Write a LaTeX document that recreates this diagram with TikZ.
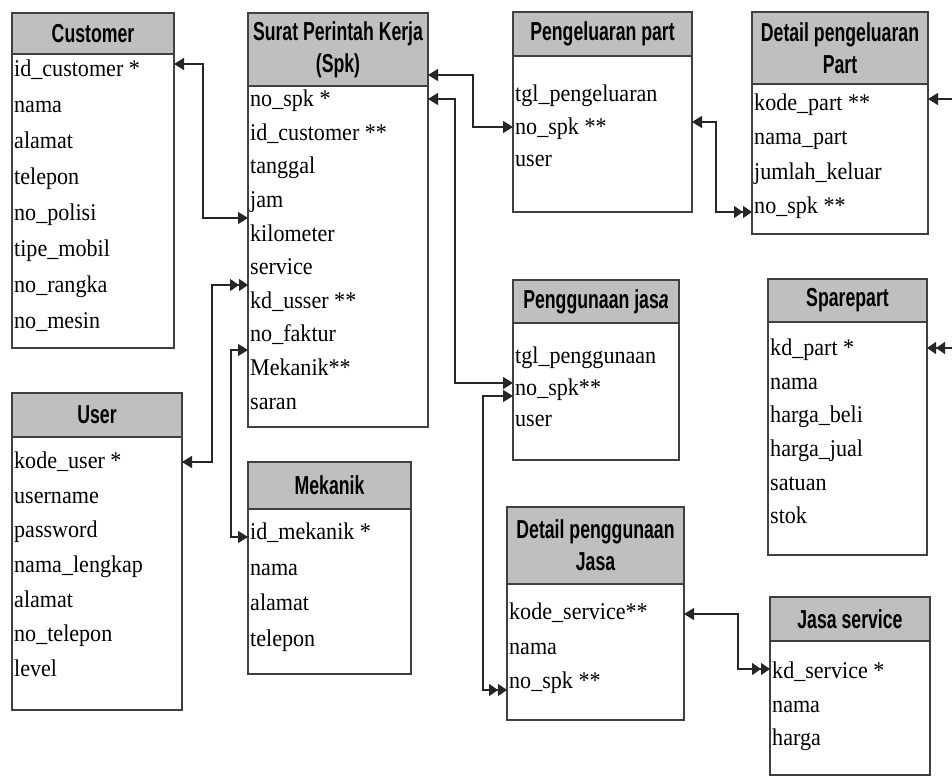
\documentclass[tikz,border=0pt]{standalone}
\usepackage{fontspec}
\usetikzlibrary{arrows.meta}
\newfontfamily\headfont[FakeStretch=0.68]{Liberation Sans}
\newfontfamily\fieldfont[FakeStretch=0.92]{Liberation Serif}

% one table: name, left, right, top, header bottom, body bottom, title
\newcommand{\erTable}[7]{%
  \node[bodybox, anchor=north west,
        minimum width={(#3-#2)*1pt}, minimum height={(#6-#5)*1pt}]
        (#1) at (#2,#5) {};
  \node[headbox, anchor=south west,
        minimum width={(#3-#2)*1pt}, minimum height={(#5-#4)*1pt}]
        (#1-h) at (#2,#5) {#7};
}

\tikzset{
  x=1pt, y=-1pt,
  bodybox/.style={draw=black!75, line width=1.4pt, fill=white, inner sep=0pt, outer sep=0pt},
  headbox/.style={draw=black!75, line width=1.4pt, fill=black!25, inner sep=0pt, outer sep=0pt,
    align=center, font=\headfont\bfseries\fontsize{26}{32}\selectfont},
  field/.style={anchor=mid west, inner xsep=2pt, inner ysep=0pt,
    font=\fieldfont\fontsize{24}{26}\selectfont},
  conn/.style={draw=black!85, line width=1.2pt},
  one/.tip={Triangle[length=10pt,width=12pt]},
  many/.tip={Triangle[length=9pt,width=12pt] Triangle[length=9pt,width=12pt]},
}

\begin{document}
\begin{tikzpicture}
\useasboundingbox (0,0) rectangle (952,778);

% ---- tables ----
\erTable{cust}{12}{174}{13}{54}{348}{Customer}
\erTable{spk}{248}{428}{13}{86}{427}{Surat Perintah Kerja\\(Spk)}
\erTable{keluar}{513}{692}{12}{56}{212}{Pengeluaran part}
\erTable{dkeluar}{752}{928}{12}{84}{234}{Detail pengeluaran\\Part}
\erTable{guna}{513}{679}{280}{323}{460}{Penggunaan jas\textit{a}}
\erTable{part}{768}{927}{279}{322}{555}{Sparepart}
\erTable{user}{12}{182}{393}{437}{710}{User}
\erTable{mek}{248}{411}{462}{509}{674}{Mekanik}
\erTable{dguna}{507}{684}{507}{584}{720}{Detail penggunaan\\Jasa}
\erTable{jasa}{770}{930}{597}{641}{775}{Jasa service}

% ---- fields ----
\foreach \t [count=\i] in {id\_customer *, nama, alamat, telepon, no\_polisi, tipe\_mobil, no\_rangka, no\_mesin}
  \node[field] (cust-\i) at (12, 38+36*\i) {\t};

\foreach \t [count=\i] in {no\_spk *, id\_customer **, tanggal, jam, kilometer, service, kd\_usser **, no\_faktur, Mekanik**, saran}
  \node[field] (spk-\i) at (248, 71+33.6*\i) {\t};

\foreach \t [count=\i] in {tgl\_pengeluaran, no\_spk **, user}
  \node[field] (keluar-\i) at (513, 67+32.5*\i) {\t};

\foreach \t [count=\i] in {kode\_part **, nama\_part, jumlah\_keluar, no\_spk **}
  \node[field] (dkeluar-\i) at (752, 74+34.3*\i) {\t};

\foreach \t [count=\i] in {tgl\_penggunaan, no\_spk**, user}
  \node[field] (guna-\i) at (513, 330+31.5*\i) {\t};

\foreach \t [count=\i] in {kd\_part *, nama, harga\_beli, harga\_jual, satuan, stok}
  \node[field] (part-\i) at (768, 320+33.6*\i) {\t};

\foreach \t [count=\i] in {kode\_user *, username, password, nama\_lengkap, alamat, no\_telepon, level}
  \node[field] (user-\i) at (12, 432+34.6*\i) {\t};

\foreach \t [count=\i] in {id\_mekanik *, nama, alamat, telepon}
  \node[field] (mek-\i) at (248, 502+35.5*\i) {\t};

\foreach \t [count=\i] in {kode\_service**, nama, no\_spk **}
  \node[field] (dguna-\i) at (507, 583+34.5*\i) {\t};

\foreach \t [count=\i] in {kd\_service *, nama, harga}
  \node[field] (jasa-\i) at (770, 643+33.5*\i) {\t};

% ---- relations ----
\draw[conn, {one}-{one}] (cust.east |- 0,64) -| (203,218) -- (spk.west |- 0,218);
\draw[conn, {one}-{many}] (user.east |- 0,462) -| (212,285) -- (spk.west |- 0,285);
\draw[conn, {one}-{one}] (spk.west |- 0,350) -| (231,537) -- (mek.west |- 0,537);
\draw[conn, {one}-{one}] (spk.east |- 0,75) -| (473,127) -- (keluar.west |- 0,127);
\draw[conn, {one}-{one}] (spk.east |- 0,99) -| (455,383) -- (guna.west |- 0,383);
\draw[conn, {one}-{many}] (keluar.east |- 0,122) -| (716,212) -- (dkeluar.west |- 0,212);
\draw[conn, {one}-{many}] (guna.west |- 0,396) -| (483,690) -- (dguna.west |- 0,690);
\draw[conn, {one}-{many}] (dguna.east |- 0,614) -| (738,669) -- (jasa.west |- 0,669);

\coordinate (edgeA) at (952,99);
\coordinate (edgeB) at (952,348);
\draw[conn, -{one}] (edgeA) -- (dkeluar.east |- edgeA);
\draw[conn, -{many}] (edgeB) -- (part.east |- edgeB);
\end{tikzpicture}
\end{document}
